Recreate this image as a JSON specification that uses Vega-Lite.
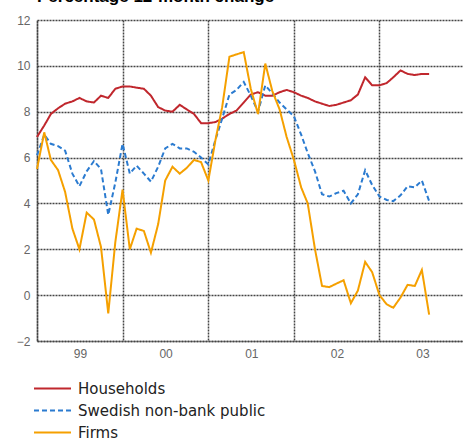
{
  "$schema": "https://vega.github.io/schema/vega-lite/v6.json",
  "autosize": "none",
  "width": 428,
  "height": 321,
  "padding": {"left": 37, "top": 20, "right": 0, "bottom": 100},
  "background": "white",
  "title": {"text": "Percentage 12-month change", "anchor": "start", "frame": "group", "fontSize": 17, "fontWeight": "bold", "font": "Liberation Sans", "color": "#000000", "offset": 6, "dy": 11, "baseline": "alphabetic"},
  "data": {
    "format": {"parse": {"month": "date:'%Y-%m'"}},
    "values": [
      {"month": "1999-01", "Households": 6.9, "Swedish non-bank public": 6.1, "Firms": 5.5},
      {"month": "1999-02", "Households": 7.4, "Swedish non-bank public": 7.0, "Firms": 7.1},
      {"month": "1999-03", "Households": 7.9, "Swedish non-bank public": 6.6, "Firms": 5.9},
      {"month": "1999-04", "Households": 8.15, "Swedish non-bank public": 6.5, "Firms": 5.45},
      {"month": "1999-05", "Households": 8.35, "Swedish non-bank public": 6.3, "Firms": 4.5},
      {"month": "1999-06", "Households": 8.45, "Swedish non-bank public": 5.3, "Firms": 2.9},
      {"month": "1999-07", "Households": 8.6, "Swedish non-bank public": 4.75, "Firms": 2.0},
      {"month": "1999-08", "Households": 8.45, "Swedish non-bank public": 5.4, "Firms": 3.6},
      {"month": "1999-09", "Households": 8.4, "Swedish non-bank public": 5.85, "Firms": 3.3},
      {"month": "1999-10", "Households": 8.7, "Swedish non-bank public": 5.5, "Firms": 2.1},
      {"month": "1999-11", "Households": 8.6, "Swedish non-bank public": 3.5, "Firms": -0.8},
      {"month": "1999-12", "Households": 9.0, "Swedish non-bank public": 4.9, "Firms": 2.3},
      {"month": "2000-01", "Households": 9.1, "Swedish non-bank public": 6.6, "Firms": 4.6},
      {"month": "2000-02", "Households": 9.1, "Swedish non-bank public": 5.3, "Firms": 2.0},
      {"month": "2000-03", "Households": 9.05, "Swedish non-bank public": 5.65, "Firms": 2.9},
      {"month": "2000-04", "Households": 9.0, "Swedish non-bank public": 5.3, "Firms": 2.8},
      {"month": "2000-05", "Households": 8.7, "Swedish non-bank public": 4.95, "Firms": 1.85},
      {"month": "2000-06", "Households": 8.2, "Swedish non-bank public": 5.6, "Firms": 3.1},
      {"month": "2000-07", "Households": 8.05, "Swedish non-bank public": 6.4, "Firms": 5.0},
      {"month": "2000-08", "Households": 8.0, "Swedish non-bank public": 6.6, "Firms": 5.6},
      {"month": "2000-09", "Households": 8.3, "Swedish non-bank public": 6.4, "Firms": 5.3},
      {"month": "2000-10", "Households": 8.1, "Swedish non-bank public": 6.4, "Firms": 5.55},
      {"month": "2000-11", "Households": 7.9, "Swedish non-bank public": 6.25, "Firms": 5.9},
      {"month": "2000-12", "Households": 7.5, "Swedish non-bank public": 6.0, "Firms": 5.8},
      {"month": "2001-01", "Households": 7.5, "Swedish non-bank public": 5.7, "Firms": 5.0},
      {"month": "2001-02", "Households": 7.55, "Swedish non-bank public": 6.8, "Firms": 6.8},
      {"month": "2001-03", "Households": 7.7, "Swedish non-bank public": 7.7, "Firms": 8.2},
      {"month": "2001-04", "Households": 7.9, "Swedish non-bank public": 8.75, "Firms": 10.4},
      {"month": "2001-05", "Households": 8.05, "Swedish non-bank public": 8.95, "Firms": 10.5},
      {"month": "2001-06", "Households": 8.4, "Swedish non-bank public": 9.3, "Firms": 10.6},
      {"month": "2001-07", "Households": 8.75, "Swedish non-bank public": 8.7, "Firms": 9.0},
      {"month": "2001-08", "Households": 8.85, "Swedish non-bank public": 8.0, "Firms": 7.9},
      {"month": "2001-09", "Households": 8.7, "Swedish non-bank public": 9.15, "Firms": 10.1},
      {"month": "2001-10", "Households": 8.7, "Swedish non-bank public": 8.8, "Firms": 8.9},
      {"month": "2001-11", "Households": 8.85, "Swedish non-bank public": 8.4, "Firms": 8.1},
      {"month": "2001-12", "Households": 8.95, "Swedish non-bank public": 8.1, "Firms": 6.9},
      {"month": "2002-01", "Households": 8.85, "Swedish non-bank public": 7.8, "Firms": 5.9},
      {"month": "2002-02", "Households": 8.7, "Swedish non-bank public": 7.0, "Firms": 4.7},
      {"month": "2002-03", "Households": 8.6, "Swedish non-bank public": 6.2, "Firms": 4.0},
      {"month": "2002-04", "Households": 8.45, "Swedish non-bank public": 5.4, "Firms": 2.0},
      {"month": "2002-05", "Households": 8.35, "Swedish non-bank public": 4.4, "Firms": 0.4},
      {"month": "2002-06", "Households": 8.25, "Swedish non-bank public": 4.3, "Firms": 0.35},
      {"month": "2002-07", "Households": 8.3, "Swedish non-bank public": 4.45, "Firms": 0.5},
      {"month": "2002-08", "Households": 8.4, "Swedish non-bank public": 4.55, "Firms": 0.65},
      {"month": "2002-09", "Households": 8.5, "Swedish non-bank public": 4.0, "Firms": -0.35},
      {"month": "2002-10", "Households": 8.75, "Swedish non-bank public": 4.4, "Firms": 0.2},
      {"month": "2002-11", "Households": 9.5, "Swedish non-bank public": 5.45, "Firms": 1.45},
      {"month": "2002-12", "Households": 9.15, "Swedish non-bank public": 4.8, "Firms": 1.0},
      {"month": "2003-01", "Households": 9.15, "Swedish non-bank public": 4.3, "Firms": 0.0},
      {"month": "2003-02", "Households": 9.25, "Swedish non-bank public": 4.15, "Firms": -0.4},
      {"month": "2003-03", "Households": 9.5, "Swedish non-bank public": 4.1, "Firms": -0.55},
      {"month": "2003-04", "Households": 9.8, "Swedish non-bank public": 4.35, "Firms": -0.1},
      {"month": "2003-05", "Households": 9.65, "Swedish non-bank public": 4.75, "Firms": 0.45},
      {"month": "2003-06", "Households": 9.6, "Swedish non-bank public": 4.7, "Firms": 0.4},
      {"month": "2003-07", "Households": 9.65, "Swedish non-bank public": 5.0, "Firms": 1.1},
      {"month": "2003-08", "Households": 9.65, "Swedish non-bank public": 4.1, "Firms": -0.85}
    ]
  },
  "transform": [{"fold": ["Households", "Swedish non-bank public", "Firms"], "as": ["series", "value"]}],
  "mark": {"type": "line", "strokeWidth": 2},
  "encoding": {
    "x": {
      "field": "month", "type": "temporal",
      "scale": {"domain": [{"year": 1999, "month": 1, "date": 1}, {"year": 2004, "month": 1, "date": 1}]},
      "axis": {
        "title": null,
        "values": [{"year": 1999, "month": 1, "date": 1}, {"year": 2000, "month": 1, "date": 1}, {"year": 2001, "month": 1, "date": 1}, {"year": 2002, "month": 1, "date": 1}, {"year": 2003, "month": 1, "date": 1}],
        "format": "%y",
        "labelOffset": 43,
        "labelAlign": "center",
        "labelBaseline": "top",
        "labelPadding": 7,
        "labelBound": false,
        "labelFlush": false,
        "labelOverlap": false
      }
    },
    "y": {
      "field": "value", "type": "quantitative",
      "scale": {"domain": [-2, 12], "nice": false, "zero": false},
      "axis": {"title": null, "values": [-2, 0, 2, 4, 6, 8, 10, 12], "labelPadding": 7}
    },
    "color": {
      "field": "series", "type": "nominal",
      "scale": {"domain": ["Households", "Swedish non-bank public", "Firms"], "range": ["#c0272d", "#2b7bd0", "#f5a000"]},
      "legend": {"title": null}
    },
    "strokeDash": {
      "field": "series", "type": "nominal",
      "scale": {"domain": ["Households", "Swedish non-bank public", "Firms"], "range": [[1, 0], [5, 3], [1, 0]]},
      "legend": {"title": null}
    }
  },
  "config": {
    "view": {"stroke": null},
    "axis": {
      "grid": true,
      "gridColor": "#444444",
      "gridDash": [2, 1],
      "gridWidth": 1.5,
      "gridOpacity": 1,
      "domain": true,
      "domainColor": "#444444",
      "domainDash": [2, 1],
      "domainWidth": 1.5,
      "ticks": false,
      "labelFont": "Liberation Sans",
      "labelFontSize": 12,
      "labelColor": "#666666"
    },
    "legend": {
      "orient": "none",
      "legendX": 7,
      "legendY": 360,
      "padding": 0,
      "symbolType": "M-2.5,0H2.5",
      "symbolSize": 219,
      "symbolStrokeWidth": 2,
      "labelFont": "DejaVu Sans",
      "labelFontSize": 15,
      "labelColor": "#222222",
      "labelOffset": 17,
      "rowPadding": 5,
      "labelLimit": 400
    }
  }
}
